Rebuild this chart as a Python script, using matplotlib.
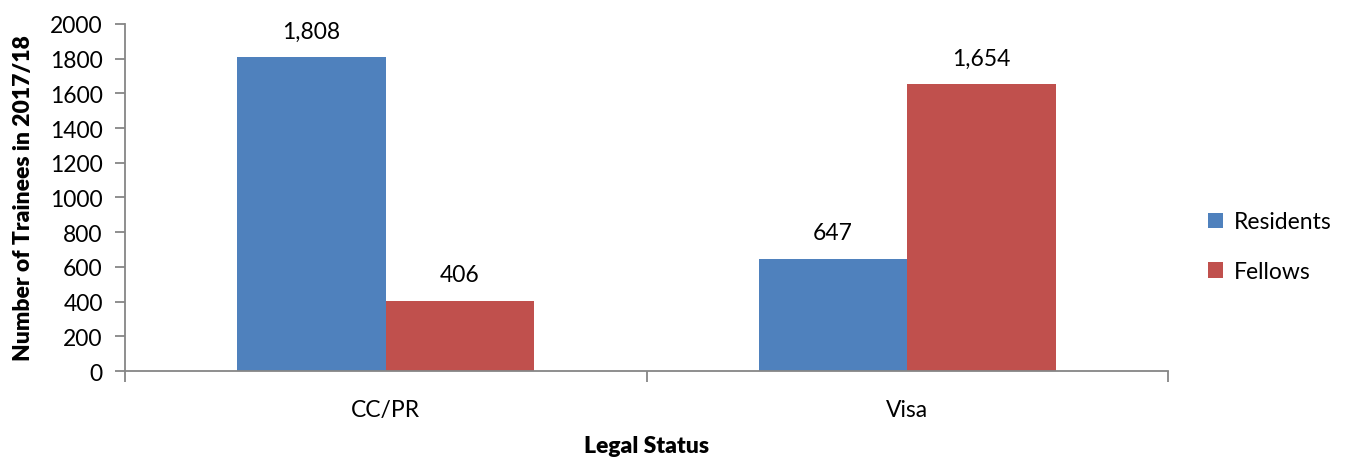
import numpy as np
import matplotlib

matplotlib.use("Agg")
import matplotlib.pyplot as plt
from matplotlib.ticker import FuncFormatter

plt.rcParams["font.family"] = ["Lato", "DejaVu Sans"]

categories = ["CC/PR", "Visa"]
series_names = ["Residents", "Fellows"]
residents = [1808, 647]
fellows = [406, 1654]
yticks = [0, 200, 400, 600, 800, 1000, 1200, 1400, 1600, 1800, 2000]

colors = ["#4F81BD", "#C0504D"]
axis_gray = "#868686"
fs = 16.5

fig = plt.figure(figsize=(13.48, 4.6), dpi=100)
ax = fig.add_axes([0.0927, 0.1913, 0.7738, 0.7544])

x = np.arange(len(categories))
width = 0.285
for i, (vals, c, lab) in enumerate(zip([residents, fellows], colors, series_names)):
    b = ax.bar(x + (i - 0.5) * width, vals, width, color=c, label=lab,
               edgecolor="none")
    for rect, v in zip(b, vals):
        ax.text(rect.get_x() + rect.get_width() / 2, v + 90, f"{v:,}",
                ha="center", va="bottom", fontsize=fs)

ax.set_xlim(-0.5, len(categories) - 0.5)
ax.set_ylim(0, 2000)
ax.set_yticks(yticks)
ax.yaxis.set_major_formatter(FuncFormatter(lambda v, p: f"{int(v)}"))
ax.set_xticks(x)
ax.set_xticklabels(categories, fontsize=fs)
ax.tick_params(axis="x", length=0, pad=20)
ax.set_xticks(np.arange(-0.5, len(categories)), minor=True)
ax.tick_params(axis="x", which="minor", length=8, color=axis_gray, width=1.3)
ax.tick_params(axis="y", labelsize=fs, length=7, color=axis_gray, width=1.3, pad=9)

for s in ["top", "right"]:
    ax.spines[s].set_visible(False)
for s in ["left", "bottom"]:
    ax.spines[s].set_color(axis_gray)
    ax.spines[s].set_linewidth(1.3)

ax.set_ylabel("Number of Trainees in 2017/18", fontsize=fs, fontweight="heavy",
              va="center")
ax.yaxis.set_label_coords(-0.097, 0.5)
ax.set_xlabel("Legal Status", fontsize=fs, fontweight="heavy", va="center")
ax.xaxis.set_label_coords(0.5, -0.216)

ax.legend(loc="center left", bbox_to_anchor=(1.019, 0.358), frameon=False,
          fontsize=fs, handlelength=0.65, handleheight=0.65,
          handletextpad=0.45, labelspacing=1.25)

fig.savefig("out.png", dpi=100)
